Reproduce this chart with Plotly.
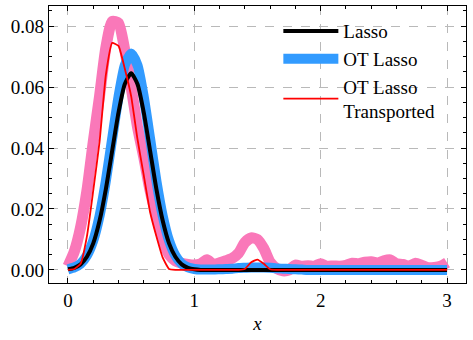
import plotly.graph_objects as go

# x grid shared by all curves
x = [0.00, 0.05, 0.10, 0.15, 0.20, 0.25, 0.30, 0.35, 0.40, 0.45,
     0.50, 0.55, 0.60, 0.65, 0.70, 0.75, 0.80, 0.85, 0.90, 0.95,
     1.00, 1.05, 1.10, 1.15, 1.20, 1.25, 1.30, 1.35, 1.40, 1.45,
     1.50, 1.55, 1.60, 1.65, 1.70, 1.75, 1.80, 1.85, 1.90, 1.95,
     2.00, 2.05, 2.10, 2.15, 2.20, 2.25, 2.30, 2.35, 2.40, 2.45,
     2.50, 2.55, 2.60, 2.65, 2.70, 2.75, 2.80, 2.85, 2.90, 2.95, 3.00]

lasso = [0.0002, 0.0007, 0.0018, 0.0043, 0.0087, 0.0161, 0.0265, 0.0391, 0.0516, 0.0610,
         0.0645, 0.0610, 0.0516, 0.0391, 0.0265, 0.0161, 0.0087, 0.0043, 0.0018, 0.0007,
         0.0002, 0, 0, 0, 0, 0, 0, 0, 0, 0,
         0, 0, 0, 0, 0, 0, 0, 0, 0, 0,
         0, 0, 0, 0, 0, 0, 0, 0, 0, 0,
         0, 0, 0, 0, 0, 0, 0, 0, 0, 0, 0]

ot_lasso = [0.0002, 0.0008, 0.0020, 0.0047, 0.0096, 0.0177, 0.0292, 0.0431, 0.0568, 0.0672,
            0.0710, 0.0672, 0.0568, 0.0431, 0.0292, 0.0177, 0.0096, 0.0047, 0.0020, 0.0008,
            0.0003, 0.0001, 0.0001, 0.0001, 0.0002, 0.0003, 0.0004, 0.0006, 0.0007, 0.0008,
            0.0008, 0.0008, 0.0007, 0.0005, 0.0004, 0.0003, 0.0002, 0.0001, 0, 0,
            0, 0, 0, 0, 0, 0, 0, 0, 0, 0,
            0, 0, 0, 0, 0, 0, 0, 0, 0, 0, 0]

transported = [0.0, 0.0003, 0.0020, 0.0110, 0.0260, 0.0420, 0.0640, 0.0745, 0.0735, 0.0660,
               0.0570, 0.0430, 0.0310, 0.0190, 0.0110, 0.0040, 0.0003, 0, 0, 0,
               0, 0, 0, 0, 0, 0, 0, 0, 0.0003, 0.0025,
               0.0034, 0.0020, 0.0002, 0, 0, 0, 0, 0, 0, 0,
               0, 0, 0, 0, 0, 0, 0, 0, 0, 0,
               0, 0, 0, 0, 0, 0, 0, 0, 0, 0, 0]

# noisy reference density (no legend entry)
truth = [0.0012, 0.0060, 0.0140, 0.0260, 0.0420, 0.0570, 0.0730, 0.0815, 0.0810, 0.0720,
         0.0600, 0.0470, 0.0370, 0.0260, 0.0175, 0.0100, 0.0050, 0.0030, 0.0022, 0.0018,
         0.0016, 0.0020, 0.0033, 0.0018, 0.0023, 0.0030, 0.0038, 0.0055, 0.0090, 0.0105,
         0.0100, 0.0070, 0.0025, 0.0005, -0.0003, 0.0000, 0.0016, 0.0012, 0.0014, 0.0012,
         0.0020, 0.0012, 0.0013, 0.0012, 0.0015, 0.0022, 0.0020, 0.0025, 0.0027, 0.0022,
         0.0030, 0.0033, 0.0020, 0.0018, 0.0012, 0.0022, 0.0015, 0.0007, 0.0008, 0.0012, 0.0024]

serif = "Liberation Serif, DejaVu Serif, serif"

fig = go.Figure()
fig.add_trace(go.Scatter(x=x, y=truth, mode='lines', showlegend=False,
                         line=dict(color='rgb(250,120,185)', width=11, shape='spline', smoothing=0.6)))
fig.add_trace(go.Scatter(x=x, y=ot_lasso, mode='lines', name='OT Lasso', legendrank=2,
                         line=dict(color='rgb(50,155,255)', width=10, shape='spline', smoothing=0.6)))
fig.add_trace(go.Scatter(x=x, y=lasso, mode='lines', name='Lasso', legendrank=1,
                         line=dict(color='black', width=4, shape='spline', smoothing=0.6)))
fig.add_trace(go.Scatter(x=x, y=transported, mode='lines', name='OT Lasso<br>Transported',
                         legendrank=3, line=dict(color='red', width=1.8, shape='spline', smoothing=0.4)))

axis_common = dict(showline=True, linecolor='black', linewidth=1.2, mirror='allticks',
                   ticks='inside', ticklen=5, tickwidth=1, tickcolor='black', automargin=False,
                   showgrid=True, gridcolor='rgb(185,185,185)', griddash='dash', gridwidth=0.8,
                   zeroline=False, tickfont=dict(family=serif, size=19, color='black'))

fig.update_xaxes(range=[-0.15, 3.15], tickvals=[0, 1, 2, 3],
                 minor=dict(dtick=0.2, tick0=0, ticks='inside', ticklen=2.5, tickcolor='black', showgrid=False),
                 title=dict(text='<i>x</i>', font=dict(family=serif, size=19), standoff=6),
                 **axis_common)
fig.update_yaxes(range=[-0.0043, 0.0866], tickvals=[0, 0.02, 0.04, 0.06, 0.08], tickformat='.2f',
                 minor=dict(dtick=0.005, tick0=0, ticks='inside', ticklen=2.5, tickcolor='black', showgrid=False),
                 **axis_common)

fig.update_layout(width=473, height=340, margin=dict(l=49, r=7, t=6, b=57),
                  plot_bgcolor='white', paper_bgcolor='white',
                  font=dict(family=serif, size=19, color='black'),
                  legend=dict(x=0.55, y=0.978, xanchor='left', yanchor='top', itemwidth=55,
                              bgcolor='rgba(0,0,0,0)', font=dict(family=serif, size=19),
                              tracegroupgap=0, valign='middle'))

fig.write_html("out.html", config={'displayModeBar': False},
               post_script="document.body.style.margin='0';")
